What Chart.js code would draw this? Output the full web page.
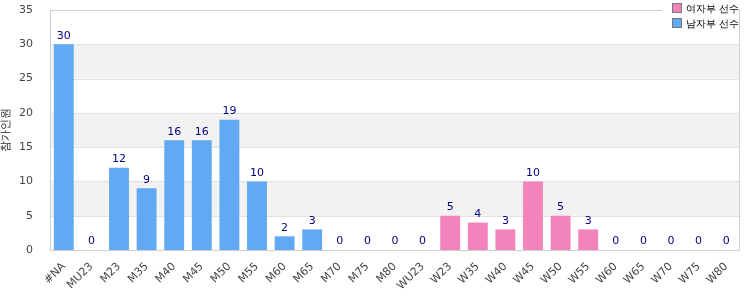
<!DOCTYPE html>
<html>
<head>
<meta charset="utf-8">
<script src="https://cdn.jsdelivr.net/npm/chart.js@4"></script>
<style>
  html, body { margin: 0; padding: 0; background: #fff; }
  #wrap { width: 750px; height: 300px; }
</style>
</head>
<body>
<div id="wrap"><canvas id="chart" width="750" height="300"></canvas></div>
<script>
// categories and counts
const categories = ['#NA', 'MU23', 'M23', 'M35', 'M40', 'M45', 'M50', 'M55', 'M60', 'M65', 'M70', 'M75', 'M80',
   'WU23', 'W23', 'W35', 'W40', 'W45', 'W50', 'W55', 'W60', 'W65', 'W70', 'W75', 'W80'];
const menCounts = [30, 0, 12, 9, 16, 16, 19, 10, 2, 3, 0, 0, 0, 0, null, null, null, null, null, null, null, null, null, null, null];
const womenCounts = [null, null, null, null, null, null, null, null, null, null, null, null, null, null, 5, 4, 3, 10, 5, 3, 0, 0, 0, 0, 0];
const yTicks = [0, 5, 10, 15, 20, 25, 30, 35];
const seriesNames = ['여자부 선수', '남자부 선수'];
const yTitle = '참가인원';

const FONT = 'DejaVu Sans, sans-serif';
const BLUE = '#61a8f5';
const PINK = '#f384bb';

// alternating background bands + frame
const bandsPlugin = {
   id: 'bands',
   beforeDatasetsDraw(chart) {
      const { ctx, chartArea: a, scales: { y } } = chart;
      ctx.save();
      for (let i = 0; i < yTicks.length - 1; i++) {
         if (i % 2 === 1) {
            const top = y.getPixelForValue(yTicks[i + 1]);
            const bot = y.getPixelForValue(yTicks[i]);
            ctx.fillStyle = '#f2f2f2';
            ctx.fillRect(a.left, top, a.right - a.left, bot - top);
         }
      }
      ctx.strokeStyle = '#e2e2e2';
      ctx.lineWidth = 1;
      yTicks.forEach(v => {
         const py = Math.round(y.getPixelForValue(v)) + 0.5;
         ctx.beginPath();
         ctx.moveTo(a.left, py);
         ctx.lineTo(a.right, py);
         ctx.stroke();
      });
      ctx.strokeStyle = '#cfcfcf';
      ctx.strokeRect(Math.round(a.left) + 0.5, Math.round(a.top) + 0.5,
         Math.round(a.right - a.left) - 1, Math.round(a.bottom - a.top));
      ctx.restore();
   }
};

// value labels above bars
const valueLabels = {
   id: 'valueLabels',
   afterDatasetsDraw(chart) {
      const ctx = chart.ctx;
      ctx.save();
      ctx.font = '11px ' + FONT;
      ctx.fillStyle = '#00007f';
      ctx.textAlign = 'center';
      ctx.textBaseline = 'bottom';
      chart.data.datasets.forEach((ds, i) => {
         const meta = chart.getDatasetMeta(i);
         meta.data.forEach((bar, j) => {
            const v = ds.data[j];
            if (v === null) return;
            ctx.fillText(String(v), bar.x, bar.y - 3);
         });
      });
      ctx.restore();
   }
};

// legend in the top right corner, stacked
const cornerLegend = {
   id: 'cornerLegend',
   afterDraw(chart) {
      const ctx = chart.ctx;
      const colors = [PINK, BLUE];
      ctx.save();
      ctx.fillStyle = '#fff';
      ctx.fillRect(662, 0, 76, 32);
      ctx.font = '10px ' + FONT;
      ctx.textBaseline = 'middle';
      ctx.textAlign = 'left';
      seriesNames.forEach((name, i) => {
         const cy = 8 + i * 15;
         ctx.fillStyle = colors[i];
         ctx.fillRect(673, cy - 4, 8, 8);
         ctx.strokeStyle = '#777';
         ctx.lineWidth = 1;
         ctx.strokeRect(672.5, cy - 4.5, 9, 9);
         ctx.fillStyle = '#000';
         ctx.fillText(name, 686, cy + 1);
      });
      ctx.restore();
   }
};

new Chart(document.getElementById('chart').getContext('2d'), {
   type: 'bar',
   data: {
      labels: categories,
      datasets: [
         { label: seriesNames[1], data: menCounts, backgroundColor: BLUE, borderWidth: 0 },
         { label: seriesNames[0], data: womenCounts, backgroundColor: PINK, borderWidth: 0 }
      ]
   },
   options: {
      responsive: false,
      animation: false,
      layout: { padding: { top: 10, right: 10, left: 0, bottom: 0 } },
      plugins: {
         legend: { display: false },
         tooltip: { enabled: false }
      },
      scales: {
         x: {
            stacked: true,
            grid: { display: false },
            border: { display: false },
            ticks: {
               color: '#444',
               font: { family: FONT, size: 11 },
               maxRotation: 45,
               minRotation: 45,
               autoSkip: false,
               padding: 2
            },
            afterFit(scale) {
               scale.height = 50;
               scale.paddingLeft = 0;
               scale.paddingRight = 0;
            }
         },
         y: {
            stacked: true,
            min: 0,
            max: 35,
            grid: { display: false },
            border: { display: false },
            ticks: {
               stepSize: 5,
               color: '#444',
               font: { family: FONT, size: 11 },
               padding: 9
            },
            title: {
               display: true,
               text: yTitle,
               color: '#222',
               font: { family: FONT, size: 11 },
               padding: 0
            },
            afterFit(scale) {
               scale.width = 50;
               scale.paddingTop = 0;
               scale.paddingBottom = 0;
            }
         }
      }
   },
   plugins: [bandsPlugin, valueLabels, cornerLegend]
});
</script>
</body>
</html>
